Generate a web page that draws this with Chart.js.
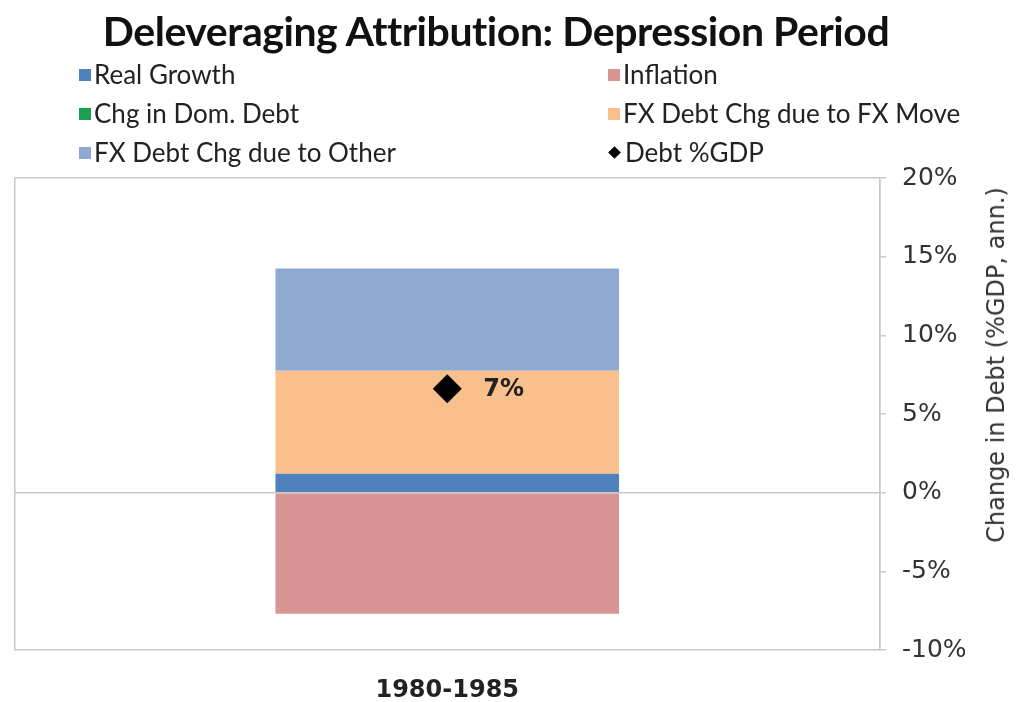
<!DOCTYPE html>
<html>
<head>
<meta charset="utf-8">
<script src="https://cdn.jsdelivr.net/npm/chart.js@4.4.1/dist/chart.umd.min.js"></script>
<style>
  html, body { margin: 0; padding: 0; background: #ffffff; }
  #wrap { position: relative; width: 1016px; height: 702px; overflow: hidden; }
  #c { position: absolute; left: 0; top: 0; }
  #title { position: absolute; left: 0; width: 992px; top: 6px; text-align: center;
           font-family: Lato, "Open Sans", sans-serif; font-weight: 700; font-size: 41px; color: #111; letter-spacing: -0.45px; }
  .lg { position: absolute; font-family: Lato, "Open Sans", sans-serif; font-size: 26px; color: #222; white-space: nowrap; line-height: 28px; }
  .lg .sw { display: inline-block; width: 12px; height: 12px; margin-right: 3px; vertical-align: 3px; }
  .lg .dia { display: inline-block; width: 9px; height: 9px; background: #000; transform: rotate(45deg); margin: 0 6px 0 2px; vertical-align: 5px; }
  #ytitle { position: absolute; left: 996px; top: 365px; transform: translate(-50%, -50%) rotate(-90deg);
            font-family: "DejaVu Sans", sans-serif; font-size: 24px; color: #333; white-space: nowrap; }
</style>
</head>
<body>
<div id="wrap">
  <canvas id="c" width="1016" height="702"></canvas>
  <div id="title">Deleveraging Attribution: Depression Period</div>
  <div id="legend"></div>
  <div id="ytitle">Change in Debt (%GDP, ann.)</div>
</div>
<script>
// ---- data ----
const categories = ['1980-1985'];
const seriesNames = ['Real Growth', 'Inflation', 'Chg in Dom. Debt', 'FX Debt Chg due to FX Move', 'FX Debt Chg due to Other'];
const realGrowth = [1.2];
const inflation = [-7.7];
const chgDomDebt = [0];
const fxMove = [6.55];
const fxOther = [6.5];
const debtGdpName = 'Debt %GDP';
const debtGdp = [6.6];
const debtGdpLabels = ['7%'];
const yMin = -10, yMax = 20, yStep = 5;

const colors = ['#4f81bd', '#d99594', '#18a050', '#f9bf8c', '#8eaad2'];
const seriesValues = [realGrowth, inflation, chgDomDebt, fxMove, fxOther];

// ---- legend (HTML) ----
const legendOrder = [
  {name: seriesNames[0], color: colors[0]}, {name: seriesNames[1], color: colors[1]},
  {name: seriesNames[2], color: colors[2]}, {name: seriesNames[3], color: colors[3]},
  {name: seriesNames[4], color: colors[4]}, {name: debtGdpName, diamond: true}
];
const legendEl = document.getElementById('legend');
legendOrder.forEach((it, i) => {
  const d = document.createElement('div');
  d.className = 'lg';
  const col = i % 2, row = Math.floor(i / 2);
  d.style.left = (col === 0 ? 79 : 608) + 'px';
  d.style.top = (60 + row * 39) + 'px';
  d.innerHTML = (it.diamond ? '<span class="dia"></span>' : '<span class="sw" style="background:' + it.color + '"></span>') + it.name;
  legendEl.appendChild(d);
});

// ---- chart ----
const gridGray = '#c8c8c8';
const datasets = seriesNames.map((n, i) => ({
  type: 'bar', label: n, data: seriesValues[i], backgroundColor: colors[i],
  borderWidth: 0, barPercentage: 0.397, categoryPercentage: 1.0, order: 2
}));
datasets.push({
  type: 'line', label: debtGdpName, data: debtGdp, showLine: false,
  pointStyle: 'rectRot', pointRadius: 14.5, pointHoverRadius: 14.5,
  backgroundColor: '#000', borderColor: '#000', borderWidth: 0, order: 1
});

const pointLabelPlugin = {
  id: 'pointLabel',
  afterDatasetsDraw(chart) {
    const meta = chart.getDatasetMeta(datasets.length - 1);
    const ctx = chart.ctx;
    ctx.save();
    ctx.font = 'bold 24px "DejaVu Sans", sans-serif';
    ctx.fillStyle = '#222';
    ctx.textAlign = 'left';
    ctx.textBaseline = 'middle';
    meta.data.forEach((pt, i) => {
      ctx.fillText(debtGdpLabels[i], pt.x + 36, pt.y + 1);
    });
    ctx.restore();
  }
};

new Chart(document.getElementById('c'), {
  data: { labels: categories, datasets },
  options: {
    responsive: false, animation: false,
    layout: { padding: { left: 10, top: 178, right: 0, bottom: 0 } },
    plugins: { legend: { display: false }, title: { display: false }, tooltip: { enabled: false } },
    scales: {
      x: {
        stacked: true, offset: true,
        grid: { display: true, offset: true, color: gridGray, lineWidth: 1.5, drawTicks: false },
        border: { display: true, color: gridGray, width: 1.5 },
        ticks: { color: '#222', padding: 26, font: { family: '"DejaVu Sans", sans-serif', size: 24, weight: 'bold' } },
        afterFit(s) { s.height = 52; }
      },
      y: {
        stacked: true, position: 'right', min: yMin, max: yMax,
        ticks: { stepSize: yStep, color: '#333', padding: 16,
                 font: { family: '"DejaVu Sans", sans-serif', size: 25 },
                 callback: v => v + '%' },
        grid: {
          color: c => (c.tick && (c.tick.value === 0 || c.tick.value === yMax)) ? gridGray : 'rgba(0,0,0,0)',
          tickColor: gridGray, tickLength: 6, lineWidth: 1.5
        },
        border: { display: true, color: gridGray, width: 1.5 },
        afterFit(s) { s.width = 136; }
      }
    }
  },
  plugins: [pointLabelPlugin]
});
</script>
</body>
</html>
